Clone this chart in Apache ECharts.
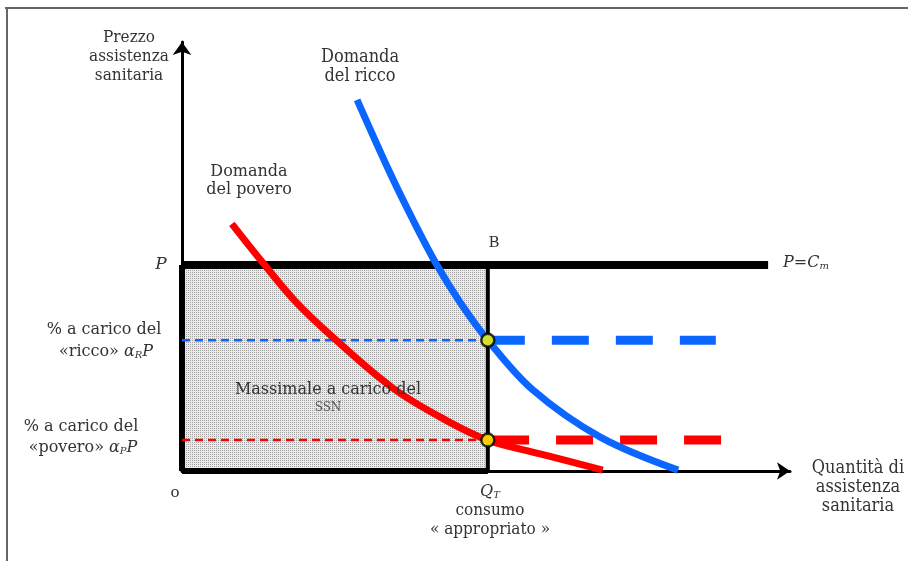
<!DOCTYPE html>
<html><head><meta charset="utf-8">
<script src="https://cdn.jsdelivr.net/npm/echarts@6/dist/echarts.min.js"></script>
<style>html,body{margin:0;padding:0;background:#fff}#c{width:908px;height:561px}</style>
</head><body><div id="c"></div>
<script>
// ---- data (abstract units, x: 0..100 quantity, y: 0..100 price) ----
const poorX = [8.2, 13.2, 18.6, 24.8, 34.7, 43.6, 50.3, 58.9, 69.2];
const poorY = [57.6, 48.7, 39.6, 31.2, 19.3, 11.7, 7.2, 4.0, 0.2];
const richX = [28.8, 34.2, 38.0, 41.8, 45.7, 50.3, 57.7, 68.8, 81.6];
const richY = [86.5, 69.5, 58.5, 48.3, 39.4, 30.5, 18.9, 7.9, 0.2];
const priceP = 48.0;      // P = Cm
const priceLineEnd = 96.4;
const qT = 50.3;          // Q_T
const alphaR = 30.5;      // share paid by the rich
const alphaP = 7.2;       // share paid by the poor
const richDashEnd = 87.8;
const poorDashStart = 51.0, poorDashEnd = 88.7;

const pairs = (xs, ys) => xs.map((x, i) => [x, ys[i]]);

const chart = echarts.init(document.getElementById('c'), null, {renderer: 'canvas'});

// dotted pattern for the shaded area
const pat = document.createElement('canvas');
pat.width = 2; pat.height = 2;
const pc = pat.getContext('2d');
pc.fillStyle = '#eaeaea'; pc.fillRect(0, 0, 2, 2);
pc.fillStyle = '#a4a4a4'; pc.fillRect(0, 0, 1, 1);

const BLUE = '#0a66ff', RED = '#ff0000', TXT = '#333';
const serif = '"DejaVu Serif", "Liberation Serif", serif';
const cond = '"DejaVu Serif Condensed", "Liberation Serif", serif';

function seg(data, color, width, type, z) {
  return {type: 'line', data, symbol: 'none', silent: true, z: z || 2,
    lineStyle: {color, width, type: type || 'solid', cap: 'butt'}, animation: false};
}
function txt(text, x, y, font, extra) {
  return {type: 'text', silent: true, z: 50,
    style: Object.assign({text, x, y, font, fill: TXT, align: 'center', verticalAlign: 'middle'}, extra || {})};
}
function sub(size) {
  return {
    a: {font: 'italic ' + size + 'px ' + serif, fill: TXT},
    n: {font: size + 'px ' + serif, fill: TXT},
    s: {font: 'italic ' + Math.round(size * 0.6) + 'px ' + serif, fill: TXT, padding: [7, 0, 0, 0]}
  };
}

const option = {
  animation: false,
  grid: {left: 182, right: 118, top: 42, bottom: 90},
  xAxis: {type: 'value', min: 0, max: 100, splitLine: {show: false},
    axisTick: {show: false}, axisLabel: {show: false},
    axisLine: {lineStyle: {color: '#000', width: 3}, symbol: ['none', 'arrow'], symbolSize: [13, 13]}},
  yAxis: {type: 'value', min: 0, max: 100, splitLine: {show: false},
    axisTick: {show: false}, axisLabel: {show: false},
    axisLine: {lineStyle: {color: '#000', width: 3}, symbol: ['none', 'arrow'], symbolSize: [14, 13]}},
  series: [
    {type: 'line', data: [], silent: true, z: 1,
      markArea: {silent: true, itemStyle: {color: {image: pat, repeat: 'repeat'}},
        data: [[{coord: [0, priceP]}, {coord: [qT, 0]}]]}},
    seg([[0, 0], [qT, 0]], '#000', 6, 'solid', 3),
    seg([[0, 0], [0, priceP]], '#000', 6, 'solid', 3),
    seg([[qT, 0], [qT, priceP]], '#000', 4, 'solid', 3),
    seg([[0, priceP], [priceLineEnd, priceP]], '#000', 8, 'solid', 3),
    seg([[0, alphaR], [qT, alphaR]], BLUE, 2.5, [8, 5], 4),
    seg([[0, alphaP], [qT, alphaP]], RED, 2.5, [8, 5], 4),
    seg([[qT, alphaR], [richDashEnd, alphaR]], BLUE, 9, [37, 27], 4),
    seg([[poorDashStart, alphaP], [poorDashEnd, alphaP]], RED, 9, [37, 27], 4),
    {type: 'line', data: pairs(poorX, poorY), smooth: 0.35, symbol: 'none', silent: true, z: 5,
      lineStyle: {color: RED, width: 7, cap: 'butt'}},
    {type: 'line', data: pairs(richX, richY), smooth: 0.35, symbol: 'none', silent: true, z: 6,
      lineStyle: {color: BLUE, width: 7, cap: 'butt'}},
    {type: 'scatter', data: [[qT, alphaR], [qT, alphaP]], symbol: 'circle', symbolSize: 13, z: 10, silent: true,
      itemStyle: {color: '#ffff00', borderColor: '#000', borderWidth: 2.5}}
  ],
  graphic: [
    {type: 'line', silent: true, shape: {x1: 5, y1: 8, x2: 908, y2: 8}, style: {stroke: '#666', lineWidth: 2}},
    {type: 'line', silent: true, shape: {x1: 7, y1: 8, x2: 7, y2: 561}, style: {stroke: '#666', lineWidth: 2}},
    txt('Prezzo', 129, 38, '17px ' + cond),
    txt('assistenza', 129, 57, '17px ' + cond),
    txt('sanitaria', 129, 76, '17px ' + cond),
    txt('Domanda', 360, 57, '18px ' + cond),
    txt('del ricco', 360, 76, '18px ' + cond),
    txt('Domanda', 249, 172, '16px ' + serif),
    txt('del povero', 249, 190, '16px ' + serif),
    txt('B', 494, 243, '15px ' + serif),
    txt('P', 161, 265, 'italic 17px ' + serif),
    txt('{a|P=C}{s|m}', 806, 263, '', {rich: sub(16)}),
    txt('% a carico del', 104, 330, '16px ' + serif),
    txt('{n|«ricco» }{a|α}{s|R}{a|P}', 106, 352, '', {rich: sub(16)}),
    txt('% a carico del', 81, 427, '16px ' + serif),
    txt('{n|«povero» }{a|α}{s|P}{a|P}', 83, 448, '', {rich: sub(16)}),
    txt('Massimale a carico del', 328, 390, '16px ' + serif),
    txt('SSN', 328, 408, '12px ' + serif, {fill: '#555'}),
    txt('o', 175, 493, '15px ' + serif),
    txt('{a|Q}{s|T}', 490, 492, '', {rich: sub(16)}),
    txt('consumo', 490, 511, '17px ' + cond),
    txt('« appropriato »', 490, 530, '17px ' + cond),
    txt('Quantità di', 858, 468, '18px ' + cond),
    txt('assistenza', 858, 487, '18px ' + cond),
    txt('sanitaria', 858, 506, '18px ' + cond)
  ]
};
chart.setOption(option);
</script>
</body></html>
